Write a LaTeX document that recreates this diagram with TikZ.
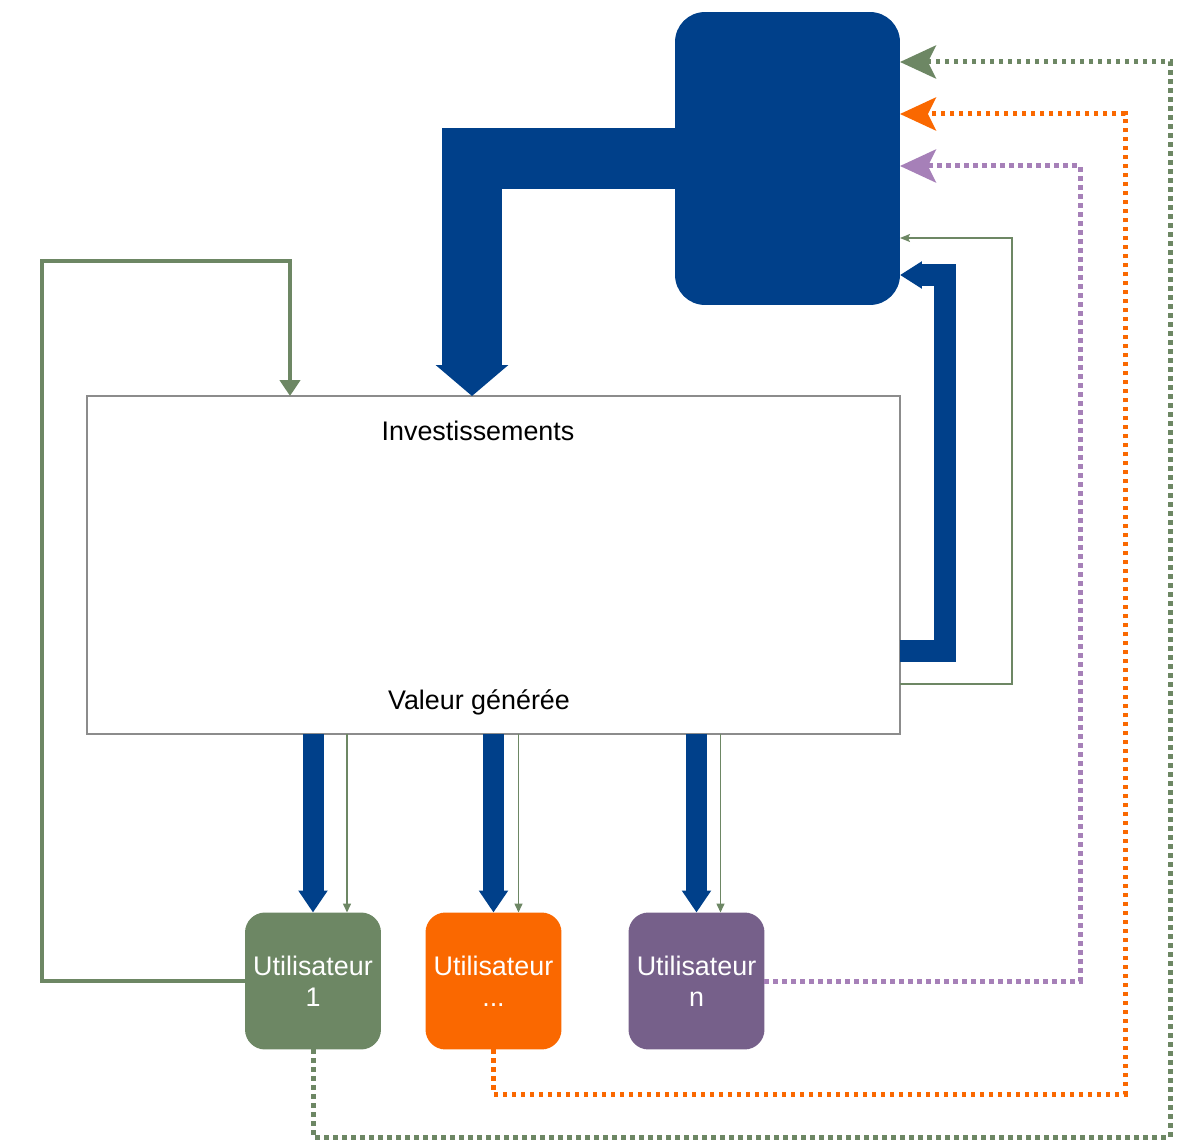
\documentclass[tikz,border=0pt]{standalone}
\usepackage{fontspec}
\setmainfont{Liberation Sans}
\usetikzlibrary{arrows.meta}
\usepackage{xcolor}
\definecolor{plateforme}{HTML}{00408A}
\definecolor{user-one}{HTML}{6D8764}
\definecolor{user-dots}{HTML}{FA6800}
\definecolor{user-n}{HTML}{76608A}
\definecolor{user-n-line}{HTML}{A680B8}
\colorlet{box-border}{black!45}

\begin{document}
\begin{tikzpicture}[x=0.02cm,y=-0.02cm,font=\fontsize{15.3}{17.6}\selectfont,
	flux/.style={draw=plateforme,line join=miter},
	user/.style={rounded corners=0.4cm,minimum width=2.72cm,minimum height=2.74cm,inner sep=0pt,outer sep=0pt,text=white,align=center},
	dotline/.style={line width=0.1cm,dash pattern=on 0.09cm off 0.09cm,-{Stealth[width=0.66cm,length=0.72cm,inset=0.16cm]}}]
	\useasboundingbox (0,0) rectangle (1184,1142);
	% boxes
	\node (plateforme) [fill=plateforme,rounded corners=0.6cm,minimum width=4.5cm,minimum height=5.86cm,inner sep=0pt,outer sep=0pt] at (787.5,158.5) {};
	\node (projet) [draw=box-border,line width=0.03cm,fill=white,minimum width=16.26cm,minimum height=6.76cm,inner sep=0pt,outer sep=0pt] at (493.5,565) {};
	\node (invest) at (478,431) {Investissements};
	\node (valeur) at (479,702) {Valeur générée};
	\node (u1) [user,fill=user-one] at (313,981) {Utilisateur\\1};
	\node (u2) [user,fill=user-dots] at (493.5,981) {Utilisateur\\...};
	\node (un) [user,fill=user-n] at (696.5,981) {Utilisateur\\n};
	% blue flows
	\draw[flux,line width=1.22cm,-{Triangle[width=1.42cm,length=0.62cm]}] (plateforme.west) -| (472,0 |- projet.north);
	\draw[flux,line width=0.44cm,-{Triangle[width=0.52cm,length=0.44cm]}] (projet.east |- 0,651) -- (945,651) |- (plateforme.east |- 0,275);
	\draw[user-one,line width=0.03cm,-{Stealth[width=0.16cm,length=0.2cm,inset=0.04cm]}] (projet.east |- 0,684) -| (1012,238) -- (plateforme.east |- 0,238);
	\foreach \usr/\off in {u1/34,u2/25,un/24} {
		\path ([xshift=\off*0.02cm]\usr.north) coordinate (\usr-g);
		\draw[flux,line width=0.42cm,-{Triangle[width=0.56cm,length=0.44cm]}] (\usr.north |- projet.south) -- (\usr.north);
		\draw[user-one,line width=0.03cm,-{Triangle[width=0.16cm,length=0.18cm]}] (\usr-g |- projet.south) -- (\usr-g);
	}
	% user 1 back to the project
	\draw[user-one,line width=0.08cm,line join=miter,-{Triangle[width=0.4cm,length=0.32cm]}] (u1.west) -| (42,261) -| (290,0 |- projet.north);
	% users back to the platform
	\draw[user-one,dotline] (u1.south) |- (1170,1137) |- (plateforme.east |- 0,62);
	\draw[user-dots,dotline] (u2.south) |- (1125,1094) |- (plateforme.east |- 0,114);
	\draw[user-n-line,dotline] (un.east) -| (1080,166) -- (plateforme.east |- 0,166);
\end{tikzpicture}
\end{document}
